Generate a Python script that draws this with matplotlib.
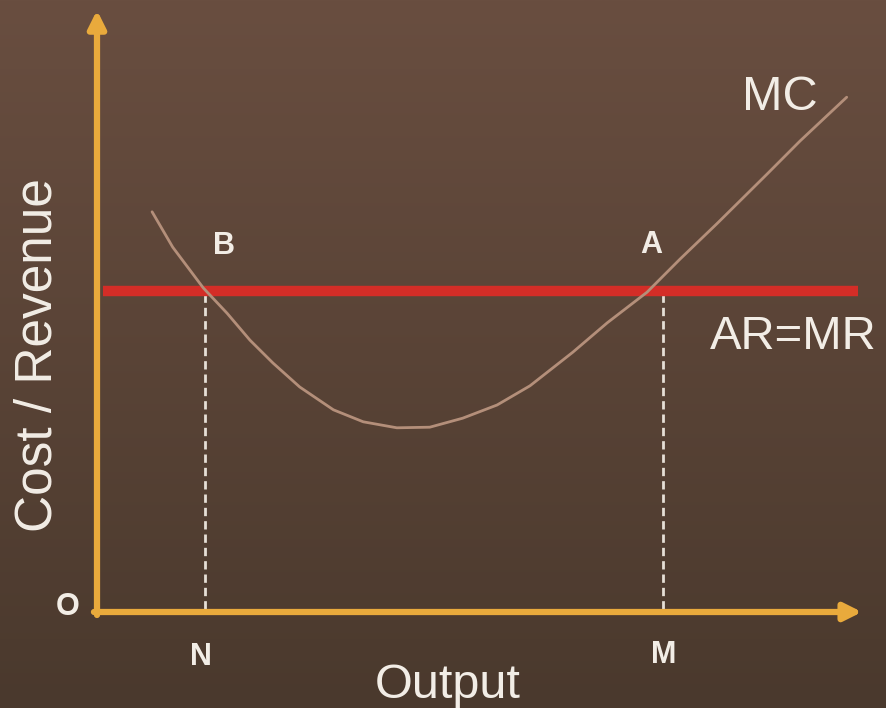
import matplotlib
matplotlib.use("Agg")
import matplotlib.pyplot as plt
import matplotlib.colors as mcolors
import numpy as np

# marginal cost curve, output vs cost
mc_q = [0.72, 0.99, 1.39, 1.70, 2.00, 2.30, 2.65, 3.09, 3.48, 3.92, 4.35, 4.78,
        5.23, 5.66, 6.22, 6.67, 7.19, 7.62, 8.11, 8.76, 9.19, 9.80]
mc_c = [6.67, 6.08, 5.40, 4.98, 4.53, 4.15, 3.75, 3.37, 3.17, 3.07, 3.08, 3.23,
        3.45, 3.77, 4.33, 4.82, 5.33, 5.88, 6.48, 7.30, 7.85, 8.58]

price = 5.35          # AR = MR
q_n = 1.41            # output at B
q_m = 7.40            # output at A
q_max = 10.0
c_max = 10.03

bg_top = (105/255, 78/255, 64/255)
bg_bottom = (74/255, 57/255, 45/255)
gold = "#e9aa3c"
red = "#d42d27"
mc_color = "#b48f7a"
text_color = "#f2ede6"
font = "Liberation Sans"

fig = plt.figure(figsize=(8.86, 7.08), dpi=100)

# brown gradient backdrop
bg = fig.add_axes([0, 0, 1, 1])
grad = np.linspace(0, 1, 256).reshape(-1, 1)
cmap = mcolors.LinearSegmentedColormap.from_list("bg", [bg_top, bg_bottom])
bg.imshow(grad, aspect="auto", cmap=cmap, extent=[0, 1, 0, 1], origin="upper")
bg.set_axis_off()

ax = fig.add_axes([0, 0, 1, 1])
ax.patch.set_alpha(0)
ax.set_xlim(-97/76.5, (886-97)/76.5)
ax.set_ylim(-96/60, (708-96)/60)
ax.set_axis_off()

# axes with arrow heads
arrow = dict(arrowstyle="-|>", lw=4.5, color=gold, mutation_scale=26, shrinkA=0, shrinkB=0)
ax.annotate("", xy=(0, c_max), xytext=(0, -0.05), arrowprops=arrow)
ax.annotate("", xy=(q_max, 0), xytext=(-0.04, 0), arrowprops=arrow)

# dashed drop lines to N and M
for q in (q_n, q_m):
    ax.plot([q, q], [0.05, price], color="#e6dfd6", lw=2, dashes=(3, 1.8), zorder=2)

# price line AR=MR
ax.plot([0.08, 9.95], [price, price], color=red, lw=7.5, solid_capstyle="butt", zorder=3)

# MC curve
ax.plot(mc_q, mc_c, color=mc_color, lw=2, solid_joinstyle="round",
        solid_capstyle="round", zorder=4)

ax.text(-0.77, 4.28, "Cost / Revenue", rotation=90, ha="center", va="center",
        fontsize=37, color=text_color, family=font)
ax.text(4.58, -1.23, "Output", ha="center", va="center", fontsize=35, color=text_color, family=font)
ax.text(8.93, 8.58, "MC", ha="center", va="center", fontsize=35, color=text_color, family=font)
ax.text(9.10, 4.58, "AR=MR", ha="center", va="center", fontsize=34, color=text_color, family=font)

for label, x, y in [("O", -0.38, 0.08), ("N", 1.36, -0.75), ("M", 7.41, -0.72),
                    ("B", 1.66, 6.10), ("A", 7.24, 6.12)]:
    ax.text(x, y, label, ha="center", va="center", fontsize=22, fontweight="bold",
            color=text_color, family=font)

fig.savefig("out.png", dpi=100)
